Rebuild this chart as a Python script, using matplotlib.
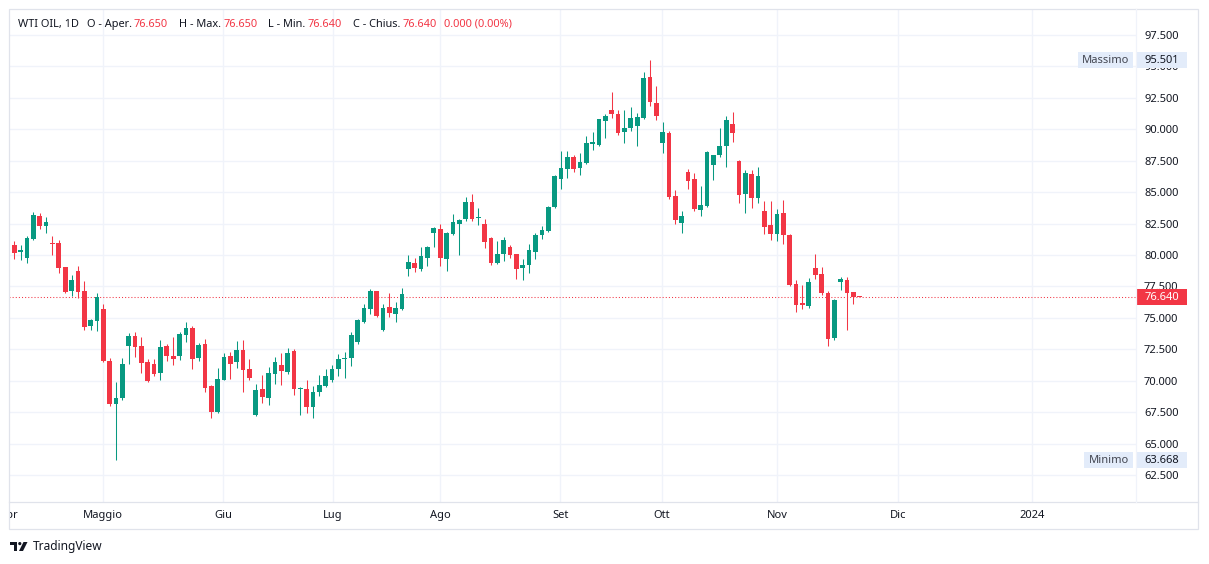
import matplotlib
matplotlib.use("Agg")
import matplotlib.pyplot as plt
from matplotlib.patches import Rectangle, Circle, Polygon
from matplotlib.transforms import blended_transform_factory
import numpy as np

plt.rcParams['font.family'] = ['Noto Sans', 'DejaVu Sans']

# daily candles, WTI OIL 1D
opens = [80.83, 80.22, 79.75, 81.25, 83.12, 82.28, 80.99, 80.99, 79.01, 77.14,
         78.70, 77.12, 74.37, 74.77, 75.69, 71.56, 68.13, 68.66, 72.79, 73.56,
         72.77, 71.50, 71.35, 70.58, 72.77, 71.98, 72.00, 73.66, 74.19, 71.77,
         72.93, 69.61, 67.50, 70.08, 71.98, 71.50, 72.45, 70.95, 67.26, 69.32,
         68.61, 70.50, 71.27, 70.66, 72.35, 69.37, 69.37, 67.90, 69.08, 69.61,
         70.03, 70.90, 71.72, 71.77, 73.11, 74.67, 75.72, 77.12, 74.03, 75.85,
         75.32, 75.72, 78.91, 79.33, 78.88, 79.75, 81.72, 82.09, 79.67, 81.64,
         82.43, 82.83, 84.25, 82.91, 82.49, 81.33, 79.35, 80.06, 80.67, 80.04,
         78.96, 79.20, 80.22, 81.56, 81.88, 83.78, 86.07, 86.86, 87.78, 86.94,
         87.33, 88.83, 88.75, 90.65, 91.57, 91.18, 89.78, 90.10, 90.25, 90.89,
         94.18, 92.13, 88.91, 89.68, 84.70, 82.51, 86.60, 86.04, 83.54, 83.93,
         87.15, 87.94, 88.67, 90.44, 87.47, 84.88, 86.44, 84.57, 83.52, 82.41,
         81.64, 83.36, 81.62, 77.67, 76.17, 75.95, 78.96, 78.48, 76.98, 73.43,
         77.85, 77.99, 77.04, 76.65]
highs = [81.15, 80.83, 81.54, 83.44, 83.36, 83.04, 81.54, 81.22, 79.05, 78.38,
         79.09, 77.91, 74.88, 76.96, 76.09, 71.80, 69.87, 71.82, 73.80, 73.88,
         73.48, 71.74, 71.72, 73.24, 72.90, 73.48, 73.88, 74.67, 74.37, 73.03,
         73.30, 69.69, 71.01, 72.19, 72.27, 73.17, 73.24, 71.74, 69.77, 70.48,
         71.09, 71.90, 72.22, 72.61, 72.53, 69.51, 70.08, 69.59, 70.46, 70.95,
         71.27, 72.14, 72.32, 73.90, 74.90, 76.11, 77.27, 77.17, 76.06, 76.96,
         76.25, 77.35, 79.96, 79.78, 80.67, 80.75, 82.25, 82.49, 81.80, 83.28,
         82.83, 84.65, 84.88, 83.75, 82.88, 81.46, 81.14, 81.46, 80.77, 80.06,
         79.67, 80.85, 81.72, 82.33, 83.93, 86.38, 88.26, 88.26, 87.94, 88.10,
         89.44, 89.76, 90.85, 91.18, 92.99, 91.57, 91.50, 91.81, 91.26, 94.58,
         95.501, 93.47, 90.55, 89.84, 85.17, 83.52, 86.83, 86.52, 85.49, 88.30,
         87.99, 90.13, 91.02, 91.34, 87.52, 86.75, 86.73, 86.99, 84.31, 84.31,
         83.67, 84.38, 81.70, 78.04, 77.59, 78.14, 80.04, 79.01, 77.12, 76.48,
         78.22, 78.22, 77.06, 76.65]
lows = [79.67, 79.57, 79.35, 81.20, 82.04, 81.72, 79.96, 78.56, 76.98, 76.72,
        76.59, 74.03, 74.03, 73.98, 71.45, 67.98, 63.668, 68.50, 71.35, 71.85,
        70.64, 69.93, 70.40, 70.08, 71.53, 71.21, 71.66, 73.11, 70.95, 71.53,
        69.08, 67.03, 67.45, 70.03, 70.16, 71.03, 69.08, 70.08, 67.18, 68.19,
        68.05, 69.74, 69.63, 70.55, 68.84, 67.26, 67.40, 67.00, 68.77, 69.51,
        69.90, 70.35, 70.19, 71.13, 72.95, 74.56, 75.28, 75.09, 73.96, 75.09,
        74.64, 75.65, 78.32, 78.64, 78.70, 79.11, 80.62, 79.11, 78.72, 81.56,
        79.98, 82.67, 82.73, 82.35, 80.54, 79.19, 79.30, 79.51, 79.72, 78.09,
        78.01, 78.56, 79.67, 81.25, 81.80, 83.70, 85.28, 86.15, 86.62, 86.38,
        87.25, 88.36, 88.70, 89.31, 90.89, 89.54, 88.91, 89.84, 88.67, 90.85,
        91.84, 90.73, 88.12, 84.49, 82.43, 81.78, 85.28, 83.46, 83.07, 83.85,
        85.96, 87.81, 87.02, 88.99, 84.17, 83.30, 83.70, 84.17, 81.64, 81.17,
        81.09, 80.85, 77.55, 75.48, 75.72, 75.80, 78.09, 76.82, 72.72, 73.27,
        77.22, 74.06, 76.11, 76.64]
closes = [80.14, 80.36, 81.38, 83.20, 82.28, 82.65, 80.85, 78.96, 77.06, 77.99,
          77.04, 74.30, 74.82, 76.64, 71.53, 68.13, 68.66, 71.35, 73.56, 72.71,
          71.37, 70.00, 70.52, 72.69, 71.93, 71.74, 73.74, 74.19, 71.74, 72.85,
          69.45, 67.50, 70.16, 71.90, 71.35, 72.45, 70.87, 70.24, 69.29, 68.69,
          70.64, 71.50, 70.74, 72.22, 69.37, 69.45, 67.90, 69.06, 69.69, 70.40,
          70.95, 71.74, 71.82, 73.64, 74.82, 75.77, 77.17, 75.16, 75.77, 75.40,
          75.77, 76.90, 79.41, 78.99, 79.88, 80.67, 82.17, 79.75, 81.78, 82.65,
          82.80, 84.25, 82.83, 83.04, 81.01, 79.35, 80.04, 81.22, 79.96, 78.88,
          79.23, 80.36, 81.62, 82.01, 83.83, 86.28, 86.91, 87.78, 86.86, 87.39,
          88.89, 88.97, 90.78, 91.02, 91.20, 89.70, 90.07, 90.86, 90.94, 94.10,
          92.15, 91.05, 89.76, 84.65, 82.75, 83.07, 85.91, 83.62, 83.99, 88.18,
          87.94, 88.65, 90.71, 89.70, 84.80, 86.52, 84.57, 86.28, 82.20, 81.64,
          83.25, 81.56, 77.61, 76.03, 76.03, 77.83, 78.40, 76.98, 73.35, 76.40,
          78.06, 76.98, 76.65, 76.64]

month_labels = ["Apr", "Maggio", "Giu", "Lug", "Ago", "Set", "Ott", "Nov", "Dic", "2024"]
month_pos = [-1.0, 14.0, 32.9, 50.1, 67.0, 85.9, 101.9, 120.0, 139.0, 160.1]
price_ticks = [62.5, 65.0, 67.5, 70.0, 72.5, 75.0, 77.5, 80.0, 82.5, 85.0,
               87.5, 90.0, 92.5, 95.0, 97.5]
last_price = 76.64
max_price = 95.501
min_price = 63.668

UP = '#089981'
DOWN = '#f23645'
TXT = '#131722'
GRID = '#f0f3fa'
BORDER = '#e0e3eb'
LABEL_BG = '#e3ecfa'

W, H = 1209, 564
fig = plt.figure(figsize=(W / 100, H / 100), dpi=100)
fig.patch.set_facecolor('white')


def px_box(x0, y0, x1, y1):
    return [x0 / W, 1 - y1 / H, (x1 - x0) / W, (y1 - y0) / H]


# main pane
ax = fig.add_axes(px_box(9.3, 9, 1135.7, 501.7))
o = np.array(opens)
hi = np.array(highs)
lo = np.array(lows)
c = np.array(closes)
x = np.arange(len(c))
cols = np.where(c >= o, UP, DOWN)

ax.vlines(x, lo, hi, colors=cols, lw=0.75, zorder=3)
ax.bar(x, np.maximum(np.abs(c - o), 0.08), bottom=np.minimum(o, c), width=0.74,
       color=cols, lw=0, zorder=4)

ax.set_xlim(-0.787, 176.43)
ax.set_ylim(60.37, 99.57)
ax.set_yticks(price_ticks)
ax.set_xticks(month_pos[1:])
ax.grid(True, color=GRID, lw=1, zorder=0)
ax.yaxis.tick_right()
ax.yaxis.set_major_formatter(matplotlib.ticker.FormatStrFormatter('%.3f'))
ax.tick_params(axis='y', length=0, pad=6, labelsize=8, labelcolor=TXT)
ax.tick_params(axis='x', length=0, labelbottom=False)
for s in ax.spines.values():
    s.set_visible(False)

ax.axhline(last_price, color=DOWN, lw=0.75, ls=(0, (1, 2)), zorder=2)

# right side labels
tr = blended_transform_factory(ax.transAxes, ax.transData)
axw = 1135.7 - 9.3


def fx(px):
    return (px - 9.3) / axw


bh = 16 / 12.57
ax.add_patch(Rectangle((fx(1135.5), last_price - bh / 2), fx(1187) - fx(1135.5), bh,
                       transform=tr, fc=DOWN, ec='none', clip_on=False, zorder=6))
ax.text(fx(1161.5), last_price, f"{last_price:.3f}", transform=tr, ha='center', va='center',
        color='white', fontsize=8, fontweight='bold', zorder=7, clip_on=False)

for val, name, x0 in [(max_price, "Massimo", 1078), (min_price, "Minimo", 1084)]:
    ax.add_patch(Rectangle((fx(x0), val - bh / 2), fx(1133) - fx(x0), bh, transform=tr,
                           fc=LABEL_BG, ec='none', clip_on=False, zorder=6))
    ax.add_patch(Rectangle((fx(1135.5), val - bh / 2), fx(1187) - fx(1135.5), bh, transform=tr,
                           fc=LABEL_BG, ec='none', clip_on=False, zorder=6))
    ax.text((fx(x0) + fx(1133)) / 2, val, name, transform=tr, ha='center', va='center',
            color='#434651', fontsize=8, zorder=7, clip_on=False)
    ax.text(fx(1161.5), val, f"{val:.3f}", transform=tr, ha='center', va='center',
            color=TXT, fontsize=8, zorder=7, clip_on=False)

# time axis row
ax_t = fig.add_axes(px_box(9.3, 501.7, 1135.7, 529))
ax_t.set_xlim(ax.get_xlim())
ax_t.set_ylim(0, 1)
ax_t.axis('off')
for pos, lab in zip(month_pos, month_labels):
    ax_t.text(pos, 0.5, lab, ha='center', va='center', fontsize=8, color=TXT,
              fontweight='bold' if lab == "2024" else 'normal', clip_on=True)

# overlay: frame, legend, logo
ov = fig.add_axes([0, 0, 1, 1], zorder=10)
ov.set_xlim(0, W)
ov.set_ylim(H, 0)
ov.axis('off')
ov.patch.set_alpha(0)
ov.add_patch(Rectangle((9.3, 9), 1198 - 9.3, 529 - 9, fill=False, ec=BORDER, lw=0.9))
ov.plot([9.3, 1198], [501.7, 501.7], color=BORDER, lw=0.9)
ov.plot([1135.7, 1135.7], [9, 501.7], color=GRID, lw=0.9)

# legend line, pieces chained one after another
header = [("WTI OIL, 1D", TXT, 0), ("O - Aper.", TXT, 5.5), ("76.650", DOWN, 1.5),
          ("H - Max.", TXT, 8), ("76.650", DOWN, 1.5), ("L - Min.", TXT, 8),
          ("76.640", DOWN, 1.5), ("C - Chius.", TXT, 8), ("76.640", DOWN, 1.5),
          ("0.000 (0.00%)", DOWN, 5.5)]
prev = None
for s, col, gap in header:
    if prev is None:
        prev = ov.text(18.3, 24.5, s, ha='left', va='center', fontsize=7.9, color=col)
    else:
        prev = ov.annotate(s, xy=(1, 0.5), xycoords=prev, xytext=(gap, 0),
                           textcoords='offset points', ha='left', va='center',
                           fontsize=7.9, color=col)

ov.add_patch(Polygon([(10, 542), (17, 542), (17, 551), (14, 551), (14, 545), (10, 545)],
                     closed=True, fc=TXT, ec='none'))
ov.add_patch(Circle((19.8, 543.6), 1.6, fc=TXT, ec='none'))
ov.add_patch(Polygon([(23.5, 542), (27.5, 542), (23, 551), (19, 551)], closed=True, fc=TXT, ec='none'))
ov.text(32.5, 546.5, "TradingView", ha='left', va='center', fontsize=8.6, color=TXT)

fig.savefig('out.png', dpi=100)
